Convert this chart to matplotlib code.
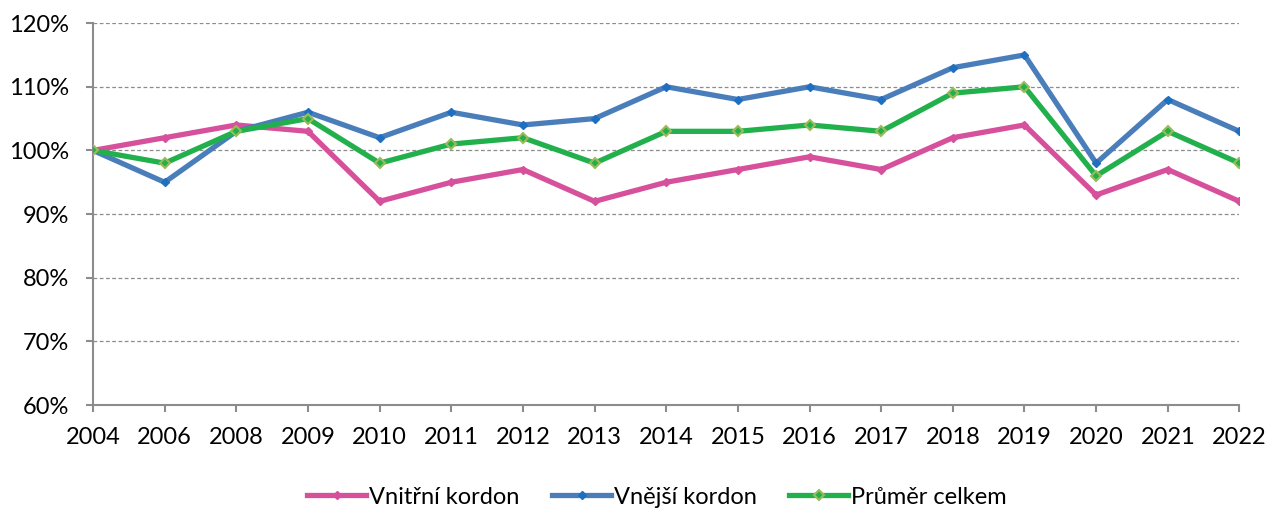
import numpy as np
import matplotlib.pyplot as plt

years = ['2004', '2006', '2008', '2009', '2010', '2011', '2012', '2013', '2014',
         '2015', '2016', '2017', '2018', '2019', '2020', '2021', '2022']
vnitrni = [100, 102, 104, 103, 92, 95, 97, 92, 95, 97, 99, 97, 102, 104, 93, 97, 92]
vnejsi = [100, 95, 103, 106, 102, 106, 104, 105, 110, 108, 110, 108, 113, 115, 98, 108, 103]
prumer = [100, 98, 103, 105, 98, 101, 102, 98, 103, 103, 104, 103, 109, 110, 96, 103, 98]

plt.rcParams['font.family'] = ['Lato', 'DejaVu Sans']

fig = plt.figure(figsize=(12.78, 5.14), dpi=100)
ax = fig.add_axes([0.0728, 0.212, 0.897, 0.743])

x = np.arange(len(years))
ax.plot(x, vnitrni, '-D', color='#D6509C', lw=3.8, ms=4, mfc='#D6509C', mec='#D6509C',
        label='Vnitřní kordon', zorder=3)
ax.plot(x, vnejsi, '-D', color='#4A7EBB', lw=3.8, ms=4, mfc='#1F6FC0', mec='#1F6FC0',
        label='Vnější kordon', zorder=3)
ax.plot(x, prumer, '-D', color='#22B04C', lw=3.8, ms=5, mfc='#22B04C', mec='#9BBB59',
        mew=1.5, label='Průměr celkem', zorder=4)

ax.set_xlim(0, len(years) - 1)
ax.set_ylim(60, 120)
ax.set_yticks(np.arange(60, 121, 10))
ax.set_yticklabels([f'{v}%' for v in range(60, 121, 10)])
ax.set_xticks(x)
ax.set_xticklabels(years)
ax.grid(axis='y', color='#8C8C8C', ls=(0, (3, 2)), lw=0.9)
ax.set_axisbelow(True)

for s in ['top', 'right']:
    ax.spines[s].set_visible(False)
for s in ['left', 'bottom']:
    ax.spines[s].set_color('#8C8C8C')
    ax.spines[s].set_linewidth(1.5)
ax.tick_params(axis='both', colors='#8C8C8C', length=5, width=1.5, labelsize=17,
               labelcolor='black')
ax.tick_params(axis='y', pad=12)
ax.tick_params(axis='x', pad=11)

fig.legend(loc='center', bbox_to_anchor=(0.514, 0.033), ncol=3, frameon=False,
           fontsize=17, handlelength=2.5, columnspacing=1.4, handletextpad=0.1)

fig.savefig('out.png', dpi=100)
